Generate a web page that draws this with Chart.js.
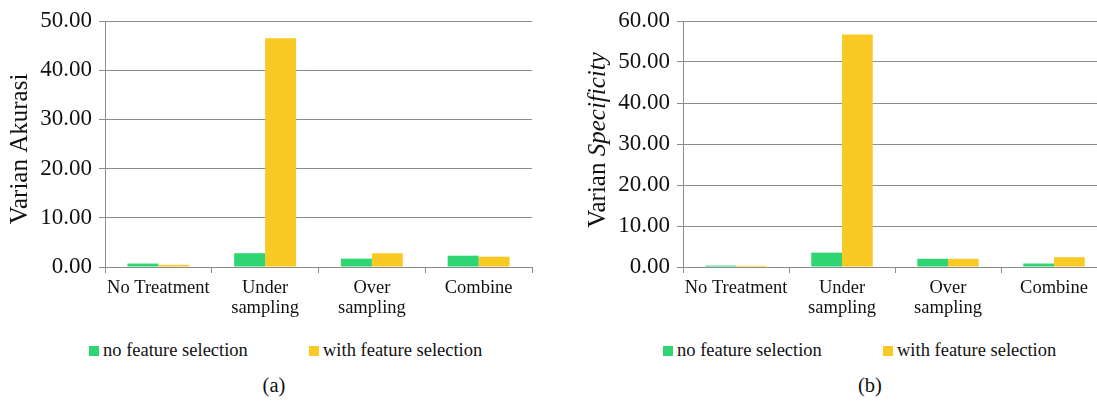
<!DOCTYPE html>
<html>
<head>
<meta charset="utf-8">
<title>Varian Akurasi / Specificity</title>
<script src="https://cdn.jsdelivr.net/npm/chart.js@4.4.1/dist/chart.umd.min.js"></script>
<style>
    html, body { margin: 0; padding: 0; background: #fff; overflow: hidden; }
    body { width: 1097px; height: 401px; position: relative; font-family: "Liberation Serif", "Times New Roman", serif; color: #111; }
    .chart-box { position: absolute; top: 0; height: 330px; }
    .legend-item { position: absolute; font-size: 18.5px; line-height: 20px; white-space: nowrap; }
    .legend-item .swatch { position: absolute; left: -14px; top: 6px; width: 10px; height: 10px; }
    .caption { position: absolute; top: 374px; font-size: 20.5px; width: 60px; text-align: center; }
</style>
</head>
<body>
<div class="chart-box" style="left:0;width:548px"><canvas id="accChart"></canvas></div>
<div class="chart-box" style="left:548px;width:559px"><canvas id="specChart"></canvas></div>

<div class="legend-item" style="left:103px;top:340px"><span class="swatch" style="background:#2ed573"></span>no feature selection</div>
<div class="legend-item" style="left:323px;top:340px"><span class="swatch" style="background:#f9ca24"></span>with feature selection</div>
<div class="legend-item" style="left:677px;top:340px"><span class="swatch" style="background:#2ed573"></span>no feature selection</div>
<div class="legend-item" style="left:897px;top:340px"><span class="swatch" style="background:#f9ca24"></span>with feature selection</div>

<div class="caption" style="left:244px">(a)</div>
<div class="caption" style="left:840px">(b)</div>

<script>
// --- data ---
const categories = [['No Treatment'], ['Under', 'sampling'], ['Over', 'sampling'], ['Combine']];
const seriesNames = ['no feature selection', 'with feature selection'];

const accNoFs = [0.7, 2.8, 1.7, 2.3];
const accWithFs = [0.45, 46.5, 2.8, 2.1];

const specNoFs = [0.35, 3.5, 2.0, 0.85];
const specWithFs = [0.3, 56.7, 2.0, 2.4];

const accTicksMax = 50;
const specTicksMax = 60;

const GREEN = '#2ed573';
const YELLOW = '#f9ca24';
const GRID = '#8c8c8c';
const TEXT = '#111';
const FONT = '"Liberation Serif", "Times New Roman", serif';

// rotated y title, drawn in parts so "Specificity" can be italic
const yTitlePlugin = {
    id: 'yTitle',
    afterDraw(chart, args, opts) {
        const ctx = chart.ctx;
        const area = chart.chartArea;
        const parts = opts.parts || [];
        ctx.save();
        ctx.fillStyle = TEXT;
        ctx.textBaseline = 'middle';
        let total = 0;
        parts.forEach(p => {
            ctx.font = (p.italic ? 'italic ' : '') + '25px ' + FONT;
            p.w = ctx.measureText(p.text).width;
            total += p.w;
        });
        ctx.translate(opts.x, (area.top + area.bottom) / 2 + (opts.dy || 0));
        ctx.rotate(-Math.PI / 2);
        let x = -total / 2;
        parts.forEach(p => {
            ctx.font = (p.italic ? 'italic ' : '') + '25px ' + FONT;
            ctx.fillText(p.text, x, 0);
            x += p.w;
        });
        ctx.restore();
    }
};

function makeChart(canvasId, noFs, withFs, maxVal, padLeft, padRight, title) {
    const ctx = document.getElementById(canvasId).getContext('2d');
    return new Chart(ctx, {
        type: 'bar',
        data: {
            labels: categories,
            datasets: [
                { label: seriesNames[0], data: noFs, backgroundColor: GREEN, borderWidth: 0 },
                { label: seriesNames[1], data: withFs, backgroundColor: YELLOW, borderWidth: 0 }
            ]
        },
        options: {
            responsive: true,
            maintainAspectRatio: false,
            animation: false,
            devicePixelRatio: 1,
            datasets: { bar: { categoryPercentage: 0.58, barPercentage: 1.0 } },
            layout: { padding: { left: padLeft, right: padRight, top: 21, bottom: 0 } },
            plugins: {
                legend: { display: false },
                tooltip: { enabled: false },
                yTitle: title
            },
            scales: {
                x: {
                    offset: true,
                    grid: { display: true, drawOnChartArea: false, color: GRID, tickLength: 6, offset: true },
                    border: { display: true, color: GRID, width: 1 },
                    ticks: { color: TEXT, padding: 5, maxRotation: 0, font: { family: FONT, size: 18.5, lineHeight: 1.08 } },
                    afterFit: scale => { scale.height = 63; }
                },
                y: {
                    min: 0,
                    max: maxVal,
                    ticks: {
                        stepSize: 10,
                        color: TEXT,
                        padding: 7,
                        font: { family: FONT, size: 23 },
                        callback: v => Number(v).toFixed(2)
                    },
                    grid: { color: GRID, lineWidth: 1, tickLength: 6 },
                    border: { display: true, color: GRID, width: 1 },
                    afterFit: scale => { scale.width = 99; }
                }
            }
        },
        plugins: [yTitlePlugin]
    });
}

makeChart('accChart', accNoFs, accWithFs, accTicksMax, 6, 16,
    { x: 20, dy: 5, parts: [{ text: 'Varian Akurasi', italic: false }] });
makeChart('specChart', specNoFs, specWithFs, specTicksMax, 36, 0,
    { x: 50, dy: -4, parts: [{ text: 'Varian ', italic: false }, { text: 'Specificity', italic: true }] });
</script>
</body>
</html>
